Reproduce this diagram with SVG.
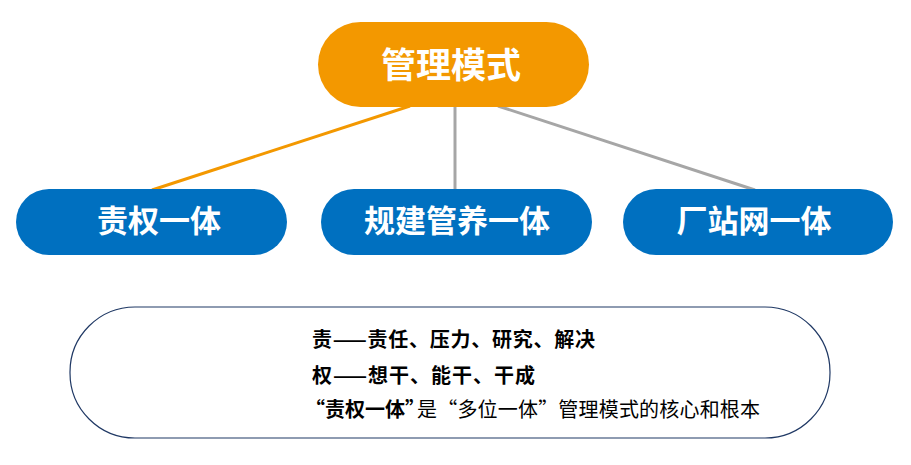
<svg xmlns="http://www.w3.org/2000/svg" width="911" height="465" viewBox="0 0 911 465">
<style>
.t{font-family:"Noto Sans CJK SC","Noto Sans",sans-serif;}
.w{fill:#fff;font-weight:700;text-anchor:middle;}
.b{fill:#0070C0;}
.k{fill:#000;font-size:20px;}
.bd{font-weight:700;}
</style>
<rect width="911" height="465" fill="#fff"/>
<g id="connectors" fill="none" stroke-width="3">
<line x1="410" y1="106" x2="152" y2="190" stroke="#F39800"/>
<line x1="455" y1="106" x2="455" y2="190" stroke="#A6A6A6"/>
<line x1="498" y1="106" x2="755" y2="190" stroke="#A6A6A6"/>
</g>
<g id="node-top">
<rect x="318" y="22" width="271" height="85" rx="42.5" fill="#F39800"/>
<text class="t w" x="451" y="78" font-size="35">管理模式</text>
</g>
<g id="node-1">
<rect class="b" x="16" y="189" width="271" height="66" rx="33"/>
<text class="t w" x="159" y="232" font-size="31">责权一体</text>
</g>
<g id="node-2">
<rect class="b" x="321" y="189" width="271" height="66" rx="33"/>
<text class="t w" x="457" y="232" font-size="31">规建管养一体</text>
</g>
<g id="node-3">
<rect class="b" x="623" y="189" width="270" height="66" rx="33"/>
<text class="t w" x="754" y="232" font-size="31">厂站网一体</text>
</g>
<g id="note">
<rect x="70" y="307" width="760" height="131" rx="65" fill="#fff" stroke="#1F3864" stroke-width="1.2"/>
<text class="t k bd" x="312" y="347" textLength="283" lengthAdjust="spacing">责——责任、压力、研究、解决</text>
<text class="t k bd" x="312" y="383" textLength="223" lengthAdjust="spacing">权——想干、能干、干成</text>
<text class="t k" y="417"><tspan class="bd" x="305">“责权一体”</tspan><tspan x="417" textLength="343" lengthAdjust="spacing">是“多位一体”管理模式的核心和根本</tspan></text>
</g>
</svg>
